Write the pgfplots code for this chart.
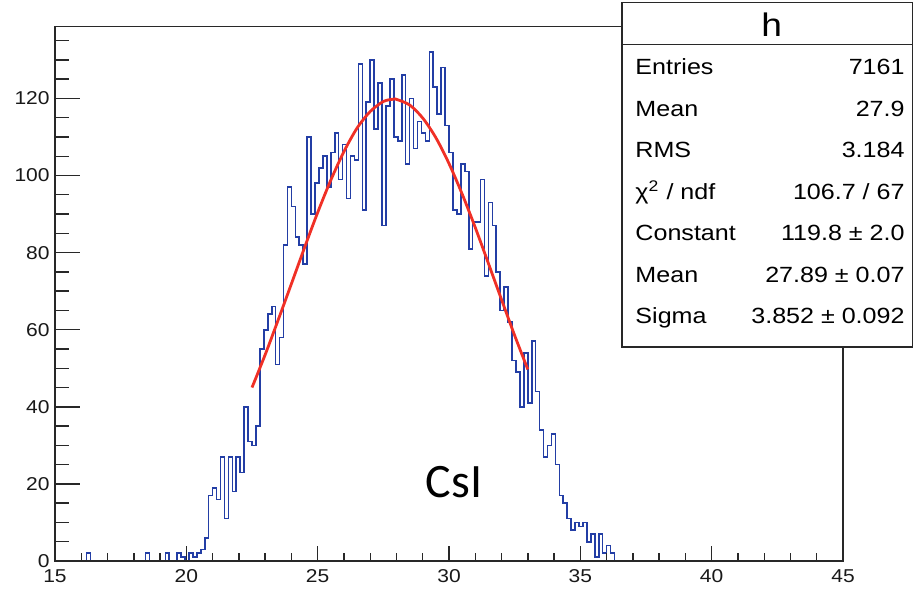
\documentclass[border=0pt]{standalone}
\usepackage{fontspec}
\setmainfont{Liberation Sans}
\newfontfamily\calibri{Carlito}
\usepackage{pgfplots}
\usepackage{pgfplotstable}
\pgfplotsset{compat=1.18}
\definecolor{histblue}{RGB}{35,62,165}
\definecolor{fitred}{RGB}{240,48,38}
\definecolor{framecol}{RGB}{40,40,40}

% bin left edge, content (200 bins of width 0.15 on [15,45])
\pgfplotstableread{
x y
15.00 0
16.20 2
16.35 0
18.45 2
18.60 0
19.20 2
19.35 0
19.65 2
19.80 1
19.95 0
20.10 2
20.25 1
20.40 2
20.55 3
20.70 6
20.85 17
21.00 19
21.15 16
21.30 27
21.45 11
21.60 27
21.75 18
21.90 27
22.05 23
22.20 40
22.35 31
22.50 30
22.65 35
22.80 55
22.95 60
23.10 64
23.25 66
23.40 51
23.55 58
23.70 82
23.85 97
24.00 92
24.15 84
24.30 82
24.45 77
24.60 110
24.75 90
24.90 98
25.05 102
25.20 105
25.35 97
25.50 106
25.65 111
25.80 99
25.95 108
26.10 94
26.25 105
26.40 104
26.55 129
26.70 91
26.85 119
27.00 130
27.15 112
27.30 124
27.45 87
27.60 118
27.75 125
27.90 110
28.05 109
28.20 126
28.35 103
28.50 120
28.65 107
28.80 114
28.95 111
29.10 109
29.25 132
29.40 123
29.55 116
29.70 128
29.85 113
30.00 106
30.15 91
30.30 90
30.45 103
30.60 101
30.75 81
30.90 88
31.05 88
31.20 99
31.35 74
31.50 93
31.65 87
31.80 75
31.95 65
32.10 71
32.25 62
32.40 52
32.55 49
32.70 40
32.85 54
33.00 41
33.15 57
33.30 44
33.45 34
33.60 27
33.75 30
33.90 33
34.05 25
34.20 17
34.35 15
34.50 11
34.65 8
34.80 10
34.95 9
35.10 10
35.25 5
35.40 7
35.55 1
35.70 7
35.85 2
36.00 4
36.15 2
36.30 0
45.00 0
}\histdata

% Gaussian fit curve (Constant 119.8, Mean 27.89, Sigma 3.852), fit range 22.5-33
\pgfplotstableread{
x y
22.5 45.0
23.0 53.5
23.5 62.6
24.0 71.9
24.5 81.3
25.0 90.4
25.5 98.8
26.0 106.2
26.5 112.3
27.0 116.6
27.5 119.2
27.89 119.8
28.0 119.75
28.5 118.3
29.0 114.9
29.5 109.8
30.0 103.1
30.5 95.2
31.0 86.5
31.5 77.2
32.0 67.8
32.5 58.5
33.0 49.7
}\fitdata

\begin{document}
\begin{tikzpicture}[x=1pt,y=1pt]
\path[use as bounding box] (0,0) rectangle (456.5,295);

% main axis: data + x ticks
\begin{axis}[
  at={(27.5pt,14.5pt)}, anchor=south west,
  width=394pt, height=267.15pt, scale only axis,
  xmin=15, xmax=45, ymin=0, ymax=138.6,
  axis on top,
  axis line style={line width=0.7pt, draw=framecol},
  tick style={line width=0.7pt, draw=framecol},
  tick align=inside,
  xtick={15,20,25,30,35,40,45},
  minor xtick={16,17,18,19,21,22,23,24,26,27,28,29,31,32,33,34,36,37,38,39,41,42,43,44},
  ytick=\empty,
  xtick pos=bottom,
  major tick length=7.5pt, minor tick length=4pt,
  /pgf/number format/assume math mode=true,
  xticklabel style={font=\fontsize{9.3}{11}\selectfont, xscale=1.13, inner ysep=4.3pt, text=black!90},
]
\addplot[const plot mark left, draw=histblue, line width=0.8pt] table[x=x,y=y] {\histdata};
\addplot[draw=fitred, line width=1.4pt, smooth] table[x=x,y=y] {\fitdata};
\end{axis}

% overlay axis: y ticks only
\begin{axis}[
  at={(27.5pt,14.5pt)}, anchor=south west,
  width=394pt, height=267.15pt, scale only axis,
  xmin=15, xmax=45, ymin=0, ymax=138.6,
  axis line style={draw=none},
  tick style={line width=0.7pt, draw=framecol},
  tick align=inside,
  xtick=\empty,
  ytick={0,20,40,60,80,100,120},
  minor ytick={5,10,15,25,30,35,45,50,55,65,70,75,85,90,95,105,110,115,125,130,135},
  ytick pos=left,
  major tick length=12.5pt, minor tick length=7pt,
  /pgf/number format/assume math mode=true,
  yticklabel style={font=\fontsize{9.3}{11}\selectfont, xscale=1.13, inner xsep=2.2pt, text=black!90},
]
\end{axis}

% statistics box
\draw[fill=white, draw=framecol, line width=0.7pt] (311,121.5) rectangle (456.1,293.6);
\draw[line width=0.7pt, draw=framecol] (311,272.85) -- (456.1,272.85);
\node[anchor=base, font=\fontsize{16.3}{19}\selectfont, xscale=1.14] at (385.8,276.6) {h};
\begin{scope}[every node/.style={font=\fontsize{11}{13}\selectfont, xscale=1.14, inner sep=0pt, text=black}]
\node[anchor=base west] at (317.5,257.5) {Entries};
\node[anchor=base east] at (452.5,257.5) {7161};
\node[anchor=base west] at (317.5,236.8) {Mean};
\node[anchor=base east] at (452.5,236.8) {27.9};
\node[anchor=base west] at (317.5,216.1) {RMS};
\node[anchor=base east] at (452.5,216.1) {3.184};
\node[anchor=base west] at (317.5,195.4) {χ\textsuperscript{2} / ndf};
\node[anchor=base east] at (452.5,195.4) {106.7 / 67};
\node[anchor=base west] at (317.5,174.7) {Constant};
\node[anchor=base east] at (452.5,174.7) {119.8 ± 2.0};
\node[anchor=base west] at (317.5,154.0) {Mean};
\node[anchor=base east] at (452.5,154.0) {27.89 ± 0.07};
\node[anchor=base west] at (317.5,133.3) {Sigma};
\node[anchor=base east] at (452.5,133.3) {3.852 ± 0.092};
\end{scope}

% label
\node[font=\calibri\fontsize{24}{28}\selectfont] at (227,54) {CsI};
\end{tikzpicture}
\end{document}
